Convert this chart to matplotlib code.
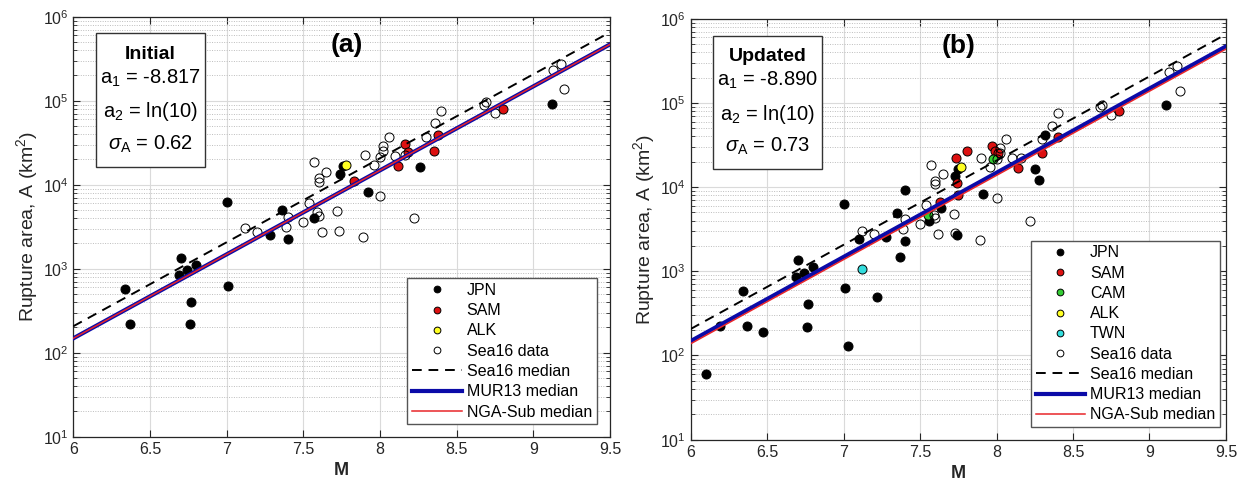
import numpy as np
import matplotlib
matplotlib.use('Agg')
import matplotlib.pyplot as plt
from matplotlib.patches import Rectangle
from matplotlib.ticker import LogLocator, NullFormatter, FixedLocator

plt.rcParams['font.family'] = ['Liberation Sans', 'DejaVu Sans']
plt.rcParams['mathtext.fontset'] = 'custom'
plt.rcParams['mathtext.rm'] = 'Liberation Sans'
plt.rcParams['mathtext.it'] = 'Liberation Sans:italic'
plt.rcParams['mathtext.bf'] = 'Liberation Sans:bold'

# ---------------- data: panel (a) ----------------
a_jpn_M = [6.34, 6.37, 6.70, 6.69, 6.74, 6.80, 6.77, 6.76, 7.01, 7.00, 7.28, 7.40,
           7.36, 7.57, 7.74, 7.76, 7.92, 8.26, 9.12]
a_jpn_A = [573, 221, 1340, 850, 955, 1120, 398, 217, 622, 6170, 2510, 2260,
           5010, 3980, 13500, 16500, 8130, 16200, 91200]
a_sam_M = [7.83, 8.12, 8.16, 8.18, 8.35, 8.38, 8.80]
a_sam_A = [10960, 16830, 30550, 24550, 25120, 38900, 79430]
a_alk_M = [7.78]
a_alk_A = [17000]

# ---------------- data: panel (b) ----------------
b_jpn_M = [6.10, 6.19, 6.34, 6.37, 6.47, 6.70, 6.69, 6.74, 6.80, 6.77, 6.76, 7.01,
           7.03, 7.00, 7.10, 7.22, 7.28, 7.40, 7.37, 7.40, 7.35, 7.56, 7.64, 7.73,
           7.75, 7.74, 7.91, 8.32, 8.25, 8.28, 9.11]
b_jpn_A = [60, 224, 578, 225, 191, 1352, 857, 955, 1122, 405, 220, 631,
           130, 6220, 2430, 501, 2540, 2275, 1470, 9200, 4955, 3980, 5690, 13680,
           16220, 2690, 8260, 41210, 16370, 12300, 93300]
b_sam_M = [7.735, 7.81, 7.97, 7.99, 8.01, 7.74, 7.63, 7.75, 8.14, 8.30, 8.40, 8.80]
b_sam_A = [22390, 26610, 30900, 26920, 25120, 11220, 6610, 8130, 16830, 25120, 39810, 79430]
b_cam_M = [7.98, 7.55]
b_cam_A = [21380, 4600]
b_alk_M = [7.77]
b_alk_A = [17380]
b_twn_M = [7.12]
b_twn_A = [1070]

# ---------------- Sea16 data (both panels) ----------------
sea_M = [7.12, 7.20, 7.40, 7.39, 7.50, 7.54, 7.59, 7.60, 7.62, 7.57, 7.60, 7.60,
         7.65, 7.72, 7.73, 7.89, 7.90, 7.96, 8.00, 8.00, 8.02, 8.02, 8.06, 8.10,
         8.16, 8.22, 8.30, 8.36, 8.40, 8.675, 8.69, 8.75, 9.13, 9.18, 9.20]
sea_A = [3020, 2735, 4160, 3160, 3630, 6110, 4680, 4270, 2735, 18400, 11900, 10860,
         14130, 4850, 2820, 2380, 22390, 17180, 7330, 21380, 25120, 28840, 37150, 21880,
         22390, 3980, 36730, 53700, 75340, 89100, 95500, 70800, 234400, 275400, 138000]

# ---------------- model coefficients ----------------
sea16_c = 1.77e-10      # A = c * M0^(2/3)
mur13_c = 1.27e-10
nga_a1 = {'a': -8.817, 'b': -8.890}
nga_a2 = np.log(10)
sigmas = {'a': '0.62', 'b': '0.73'}
labels_box = {'a': 'Initial', 'b': 'Updated'}

M_line = np.array([6.0, 9.5])


def scaling(c, M):
    return 10 ** (np.log10(c) + (1.5 * M + 9.1) * 2.0 / 3.0)


C_JPN = 'black'
C_SAM = '#dd1111'
C_CAM = '#33cc33'
C_ALK = '#ffff22'
C_TWN = '#33dddd'
C_BLUE = '#0b0ba8'
C_RED = '#e8262a'

fig = plt.figure(figsize=(12.44, 4.90), dpi=100)
ax_a = fig.add_axes([0.0589, 0.1088, 0.4315, 0.8572])
ax_b = fig.add_axes([0.5552, 0.1027, 0.4303, 0.8592])

ms = 6.5


def style_axes(ax):
    ax.set_yscale('log')
    ax.set_xlim(6, 9.5)
    ax.set_ylim(10, 1e6)
    ax.xaxis.set_major_locator(FixedLocator([6, 6.5, 7, 7.5, 8, 8.5, 9, 9.5]))
    ax.set_xticklabels(['6', '6.5', '7', '7.5', '8', '8.5', '9', '9.5'])
    ax.yaxis.set_major_locator(LogLocator(base=10, numticks=10))
    ax.yaxis.set_minor_locator(LogLocator(base=10, subs=np.arange(2, 10), numticks=20))
    ax.yaxis.set_minor_formatter(NullFormatter())
    ax.grid(which='major', axis='both', color='#dadada', lw=0.8, ls='-')
    ax.grid(which='minor', axis='y', color='#bdbdbd', lw=0.7, ls=(0, (1, 1.5)))
    ax.set_axisbelow(True)
    ax.tick_params(which='both', direction='in', top=True, right=True,
                   colors='#262626', labelsize=11.5)
    ax.tick_params(which='major', length=5, width=0.8)
    ax.tick_params(which='minor', length=3, width=0.6)
    for s in ax.spines.values():
        s.set_color('#262626')
        s.set_linewidth(0.9)
    ax.set_xlabel('M', fontsize=13, fontweight='bold', color='#262626', labelpad=4)
    ax.set_ylabel('Rupture area, A (km$^2$)', fontsize=14, color='#262626', labelpad=2)


def pts(ax, M, A, fc, label):
    return ax.plot(M, A, 'o', ls='none', ms=ms, mfc=fc, mec='black', mew=0.7,
                   label=label, zorder=3)[0]


def lines(ax, key):
    h1 = ax.plot(M_line, scaling(sea16_c, M_line), ls=(0, (5, 3.5)), color='black',
                 lw=1.4, label='Sea16 median', zorder=4)[0]
    h2 = ax.plot(M_line, scaling(mur13_c, M_line), color=C_BLUE, lw=3.0,
                 label='MUR13 median', zorder=5)[0]
    h3 = ax.plot(M_line, np.exp(nga_a1[key] + nga_a2 * M_line), color=C_RED, lw=1.1,
                 label='NGA-Sub median', zorder=6)[0]
    return [h1, h2, h3]


def textbox(ax, key, a1txt):
    ax.add_patch(Rectangle((0.042, 0.643), 0.203, 0.317, transform=ax.transAxes,
                           facecolor='white', edgecolor='#333333', lw=1.0, zorder=10))
    cx = 0.1435
    ax.text(cx, 0.899, labels_box[key], transform=ax.transAxes, ha='center',
            va='baseline', fontsize=14, fontweight='bold', zorder=11)
    ax.text(cx, 0.840, r'a$_1$ = ' + a1txt, transform=ax.transAxes, ha='center',
            va='baseline', fontsize=14.5, zorder=11)
    ax.text(cx, 0.760, r'a$_2$ = ln(10)', transform=ax.transAxes, ha='center',
            va='baseline', fontsize=14.5, zorder=11)
    ax.text(cx, 0.684, r'$\sigma_{\rm A}$ = ' + sigmas[key], transform=ax.transAxes,
            ha='center', va='baseline', fontsize=14.5, zorder=11)


def legend(ax, handles, anchor):
    lg = ax.legend(handles=handles, loc='lower right', bbox_to_anchor=anchor,
                   fontsize=11.5, frameon=True, fancybox=False, framealpha=1,
                   edgecolor='#555555', handlelength=3.1, handletextpad=0.3,
                   labelspacing=0.33, borderpad=0.3, borderaxespad=0.0,
                   markerscale=0.75)
    lg.get_frame().set_linewidth(1.0)
    lg.set_zorder(12)


# ---------------- panel (a) ----------------
style_axes(ax_a)
hj = pts(ax_a, a_jpn_M, a_jpn_A, C_JPN, 'JPN')
hs = pts(ax_a, a_sam_M, a_sam_A, C_SAM, 'SAM')
hk = pts(ax_a, a_alk_M, a_alk_A, C_ALK, 'ALK')
ho = pts(ax_a, sea_M, sea_A, 'none', 'Sea16 data')
hl = lines(ax_a, 'a')
textbox(ax_a, 'a', '-8.817')
ax_a.text(0.51, 0.933, '(a)', transform=ax_a.transAxes, ha='center', va='center',
          fontsize=19, fontweight='bold', zorder=11)
legend(ax_a, [hj, hs, hk, ho] + hl, (0.975, 0.0295))

# ---------------- panel (b) ----------------
style_axes(ax_b)
hj = pts(ax_b, b_jpn_M, b_jpn_A, C_JPN, 'JPN')
hs = pts(ax_b, b_sam_M, b_sam_A, C_SAM, 'SAM')
hc = pts(ax_b, b_cam_M, b_cam_A, C_CAM, 'CAM')
hk = pts(ax_b, b_alk_M, b_alk_A, C_ALK, 'ALK')
ht = pts(ax_b, b_twn_M, b_twn_A, C_TWN, 'TWN')
ho = pts(ax_b, sea_M, sea_A, 'none', 'Sea16 data')
hl = lines(ax_b, 'b')
textbox(ax_b, 'b', '-8.890')
ax_b.text(0.50, 0.935, '(b)', transform=ax_b.transAxes, ha='center', va='center',
          fontsize=19, fontweight='bold', zorder=11)
legend(ax_b, [hj, hs, hc, hk, ht, ho] + hl, (0.989, 0.0295))

fig.savefig('out.png', dpi=100)
